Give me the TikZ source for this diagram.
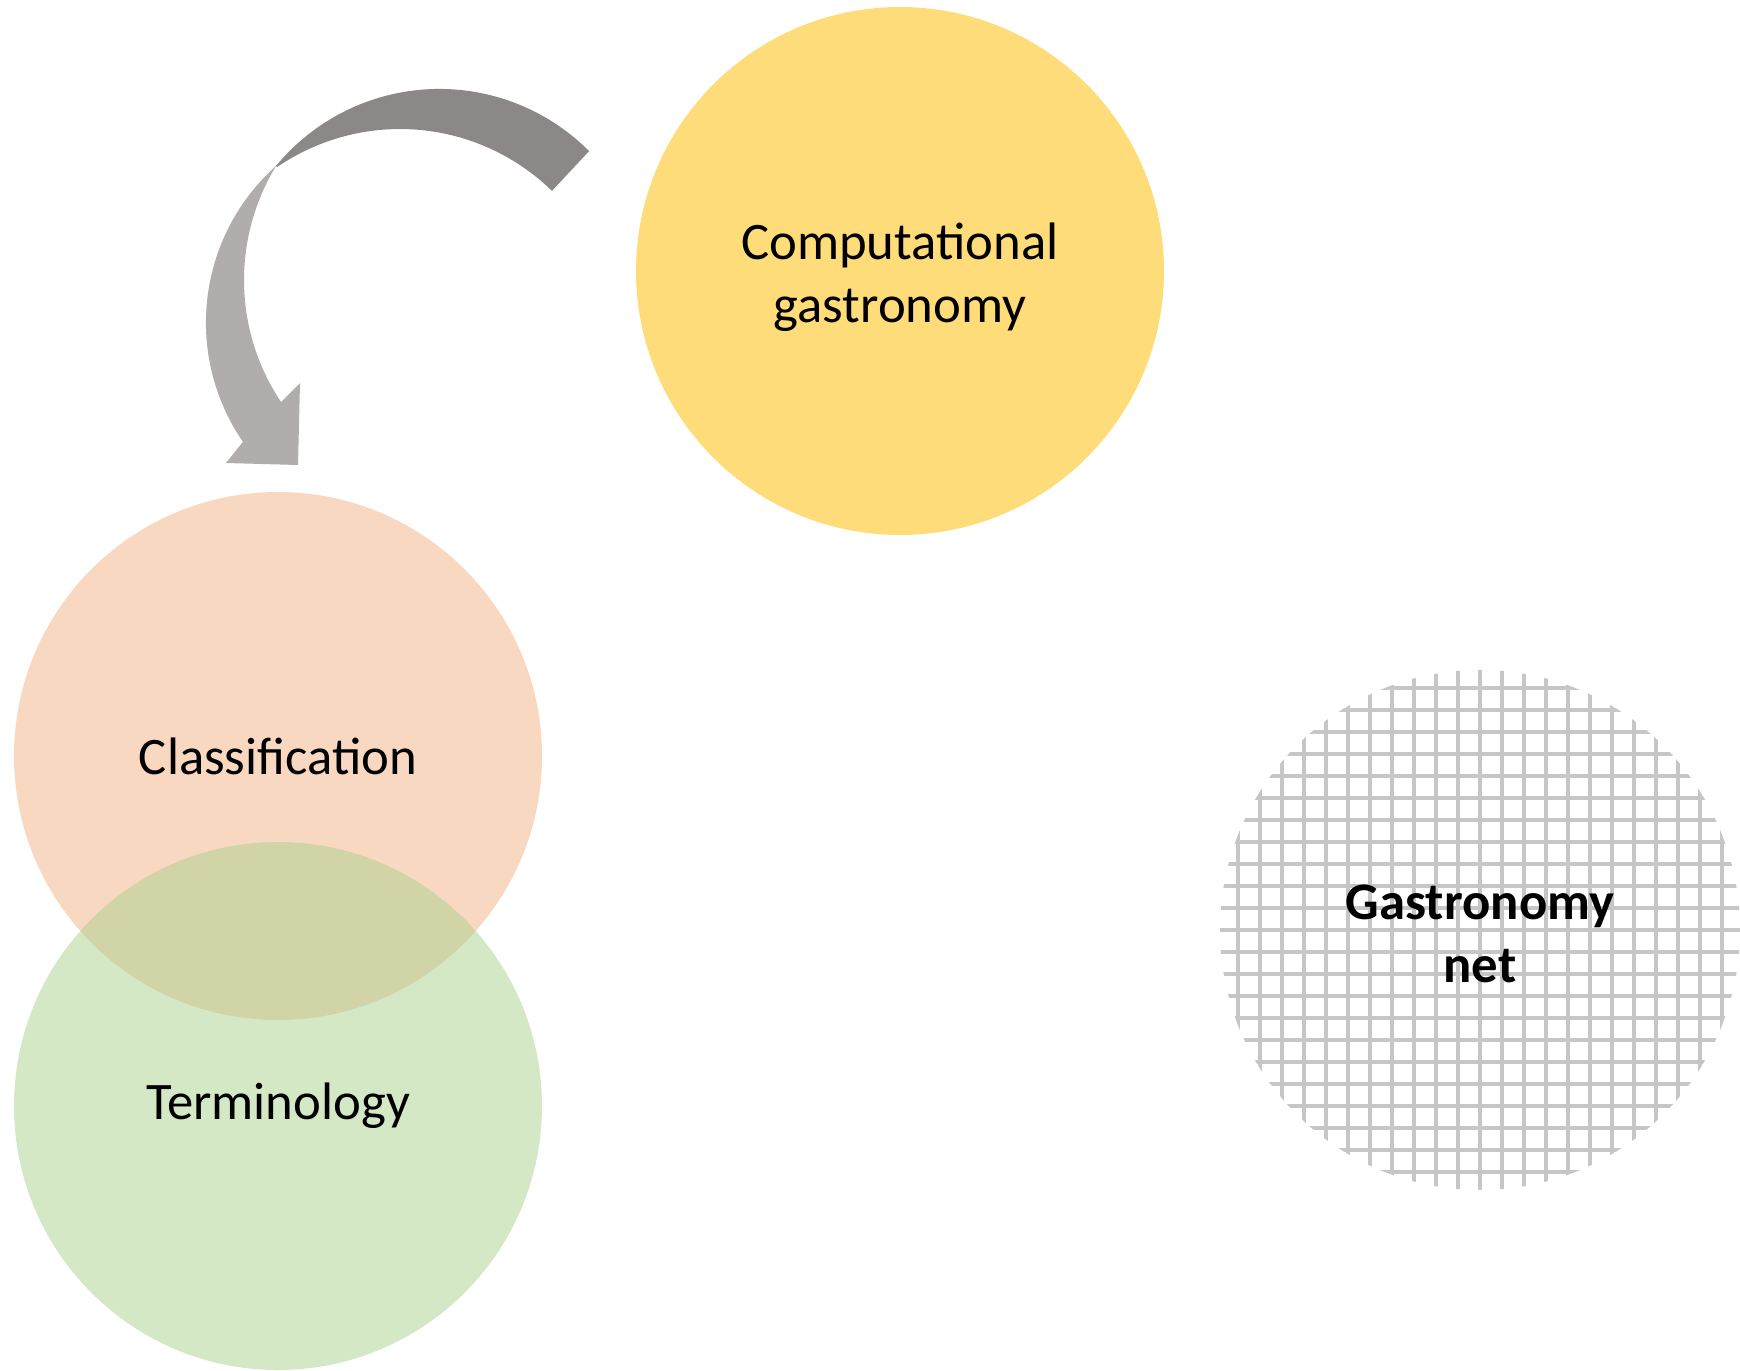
\documentclass[tikz,border=0pt]{standalone}
\usepackage{fontspec}
\setmainfont{Carlito}
\definecolor{sunyellow}{RGB}{255,220,122}
\definecolor{peach}{RGB}{244,177,131}
\definecolor{sage}{RGB}{169,209,142}
\definecolor{arrowdark}{RGB}{139,136,135}
\definecolor{arrowlight}{RGB}{176,173,172}
\definecolor{netgray}{RGB}{198,198,198}

\begin{document}
\begin{tikzpicture}[x=0.1mm, y=0.1mm,
  every node/.style={font=\fontsize{15}{18}\selectfont, align=center},
  disc/.style={circle, minimum size=52.8mm, inner sep=0pt},
  netline/.style={draw=netgray, line width=0.4mm}]
\useasboundingbox (0,0) rectangle (1740,-1370);

% the discs
\node[disc, fill=sunyellow] (comp) at (900,-271) {\rule{0pt}{14pt}Computational\\gastronomy};
\node[disc, fill=peach, fill opacity=0.5, text opacity=1] (cls) at (278,-756) {Classification};
\node[disc, fill=sage, fill opacity=0.5, text opacity=1] (term) at (278,-1106) {Terminology};
\node[disc, minimum size=52mm, font=\fontsize{15}{18}\selectfont\bfseries,
  path picture={
    \foreach \k in {-12,...,12} {
      \draw[netline] ([xshift=\k*2.2mm]path picture bounding box.center) ++(0,-27mm) -- ++(0,54mm);
      \draw[netline] ([yshift=\k*2.2mm]path picture bounding box.center) ++(-27mm,0) -- ++(54mm,0);
    }}] (net) at (1480,-930) {\rule{0pt}{12pt}Gastronomy\\net};

% curved block arrow, twisted at the top left
\fill[arrowdark] plot[domain=44.9:140.5, samples=40] ({439.3+211.5*cos(\x)},{-300.4+211.5*sin(\x)})
  -- plot[domain=124.4:45.7, samples=40] ({400+217.6*cos(\x)},{-346.6+217.6*sin(\x)}) -- cycle;
\fill[arrowlight] plot[domain=131.8:214.5, samples=40] ({416.3+210.4*cos(\x)},{-322.7+210.4*sin(\x)})
  -- (226,-463) -- (298,-465) -- (300,-383) -- (281,-402)
  -- plot[domain=213.8:148.6, samples=40] ({463.2+219.2*cos(\x)},{-280.1+219.2*sin(\x)}) -- cycle;
\end{tikzpicture}
\end{document}
